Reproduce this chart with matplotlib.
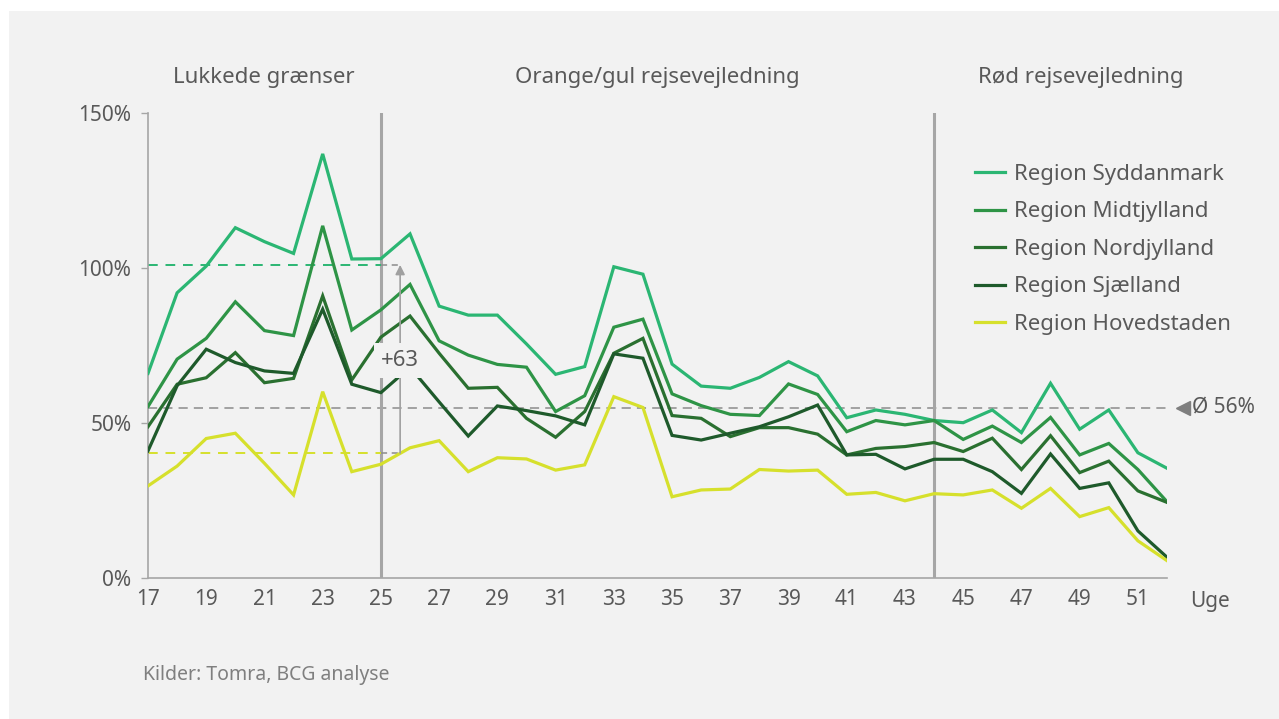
import numpy as np
import matplotlib
matplotlib.use('Agg')
import matplotlib.pyplot as plt
from matplotlib.patches import Rectangle

plt.rcParams['font.family'] = ['Noto Sans', 'DejaVu Sans']

weeks = list(range(17, 53))

syddanmark = [66, 92, 100.6, 113, 108.5, 104.7, 136.8, 102.9, 103, 111, 87.7, 84.8,
              84.8, 75.5, 65.7, 68.2, 100.4, 98, 69, 61.9, 61.2, 64.7, 69.8, 65.2,
              51.7, 54.2, 52.8, 50.8, 50.1, 54.2, 46.9, 62.8, 48, 54.2, 40.4, 35.4]
midtjylland = [55.3, 70.6, 77.3, 89.1, 79.8, 78.2, 113.6, 80, 86.5, 94.7, 76.5, 71.9,
               68.9, 68, 53.7, 58.8, 80.9, 83.5, 59.4, 55.6, 52.8, 52.4, 62.6, 59.2,
               47.2, 50.8, 49.4, 50.8, 44.7, 49, 43.7, 51.8, 39.7, 43.4, 35, 24.6]
nordjylland = [48.8, 62.5, 64.6, 72.7, 63.0, 64.4, 91.0, 63.9, 77.7, 84.5, 72.5, 61.2,
               61.5, 51.5, 45.4, 53.7, 72.5, 77.3, 52.4, 51.5, 45.6, 48.5, 48.5, 46.4,
               39.7, 41.8, 42.4, 43.7, 40.8, 45.1, 35.0, 45.9, 34.0, 37.7, 28.1, 24.4]
sjaelland = [41.0, 62.0, 73.8, 69.5, 66.8, 66.0, 86.7, 62.5, 59.8, 68.0, 56.8, 45.8,
             55.5, 54.0, 52.3, 49.4, 72.3, 70.9, 46.0, 44.5, 46.7, 48.8, 52.0, 55.8,
             39.7, 39.9, 35.2, 38.3, 38.3, 34.3, 27.3, 40.0, 28.9, 30.7, 15.2, 6.7]
hovedstaden = [29.7, 36.1, 45, 46.7, 37, 26.8, 60.1, 34.3, 36.7, 42, 44.3, 34.3,
               38.8, 38.4, 34.8, 36.5, 58.5, 55, 26.2, 28.4, 28.7, 35, 34.5, 34.8,
               27, 27.6, 24.9, 27.2, 26.8, 28.4, 22.5, 28.9, 19.8, 22.7, 12, 5.6]

series = [
    ('Region Syddanmark', syddanmark, '#2bb673'),
    ('Region Midtjylland', midtjylland, '#2e9446'),
    ('Region Nordjylland', nordjylland, '#2a7030'),
    ('Region Sjælland', sjaelland, '#1e5a2b'),
    ('Region Hovedstaden', hovedstaden, '#d6e02c'),
]

phases = ['Lukkede grænser', 'Orange/gul rejsevejledning', 'Rød rejsevejledning']
phase_breaks = [25, 44]
high_ref, low_ref, diff_label = 101, 40.3, '+63'
avg_value, avg_label = 55, 'Ø 56%'
yticks = [0, 50, 100, 150]
xticks = list(range(17, 53, 2))

text_col = '#595959'
grid_col = '#a6a6a6'
back = '#f2f2f2'

fig = plt.figure(figsize=(12.79, 7.19), dpi=100, facecolor='white')
fig.patches.append(Rectangle((9 / 1279, 0), 1, 1 - 11 / 719, transform=fig.transFigure,
                             facecolor=back, edgecolor='none', zorder=-10))

ax = fig.add_axes([148 / 1279, 1 - 578 / 719, 1019 / 1279, 465 / 719])
ax.patch.set_alpha(0)
ax.set_xlim(17, 52)
ax.set_ylim(0, 150)

for name, vals, col in series:
    ax.plot(weeks, vals, color=col, lw=2.3, label=name, zorder=3, solid_joinstyle='miter')

# phase separators
for b in phase_breaks:
    ax.axvline(b, color=grid_col, lw=2.2, zorder=2)

# average line
ax.axhline(avg_value, color='#8c8c8c', lw=1.1, ls=(0, (6, 4)), zorder=1)
ax.plot([52.55], [avg_value], marker='<', color='#7f7f7f', ms=10, clip_on=False)
ax.text(52.85, avg_value, avg_label, color=text_col, fontsize=15, va='center', ha='left')

# difference annotation
arrow_x = 25.66
ax.plot([17, 25], [high_ref, high_ref], color='#2bb673', lw=1.4, ls=(0, (5, 4)), zorder=2)
ax.plot([17, 25], [low_ref, low_ref], color='#d6e02c', lw=1.4, ls=(0, (5, 4)), zorder=2)
ax.plot([25, arrow_x], [high_ref, high_ref], color='#8c8c8c', lw=1.1, ls=(0, (4, 3)), zorder=2)
ax.plot([25, arrow_x], [low_ref, low_ref], color='#8c8c8c', lw=1.1, ls=(0, (4, 3)), zorder=2)
ax.annotate('', xy=(arrow_x, high_ref), xytext=(arrow_x, low_ref),
            arrowprops=dict(arrowstyle='-|>', color='#a0a0a0', lw=1.2,
                            mutation_scale=14, shrinkA=0, shrinkB=0), zorder=4)
ax.text(arrow_x, (high_ref + low_ref) / 2 - 0.5, diff_label, color=text_col, fontsize=16,
        ha='center', va='center', zorder=5,
        bbox=dict(boxstyle='square,pad=0.3', facecolor=back, edgecolor='none'))

# phase titles
for name, xc in zip(phases, [264, 657, 1081]):
    fig.text(xc / 1279, 1 - 78 / 719, name, color=text_col, fontsize=16,
             ha='center', va='center')

# axes styling
for s in ['top', 'right']:
    ax.spines[s].set_visible(False)
for s in ['left', 'bottom']:
    ax.spines[s].set_color(grid_col)
    ax.spines[s].set_linewidth(1.2)
ax.set_yticks(yticks)
ax.set_yticklabels([f'{v}%' for v in yticks])
ax.set_xticks(xticks)
ax.tick_params(axis='y', colors=grid_col, length=5, width=1, labelsize=15,
               labelcolor=text_col, pad=7)
ax.tick_params(axis='x', length=0, labelsize=15, labelcolor=text_col, pad=8)
fig.text(1210 / 1279, 1 - 602 / 719, 'Uge', color=text_col, fontsize=15,
         ha='center', va='center')

leg = ax.legend(loc='upper left', bbox_to_anchor=(955 / 1279, 1 - 144 / 719),
                bbox_transform=fig.transFigure, frameon=False, fontsize=16,
                handlelength=1.36, handletextpad=0.38, labelspacing=0.74,
                labelcolor=text_col)

fig.text(143 / 1279, 1 - 675 / 719, 'Kilder: Tomra, BCG analyse', color='#7f7f7f',
         fontsize=14, ha='left', va='center')

fig.savefig('out.png', dpi=100, facecolor=fig.get_facecolor())
